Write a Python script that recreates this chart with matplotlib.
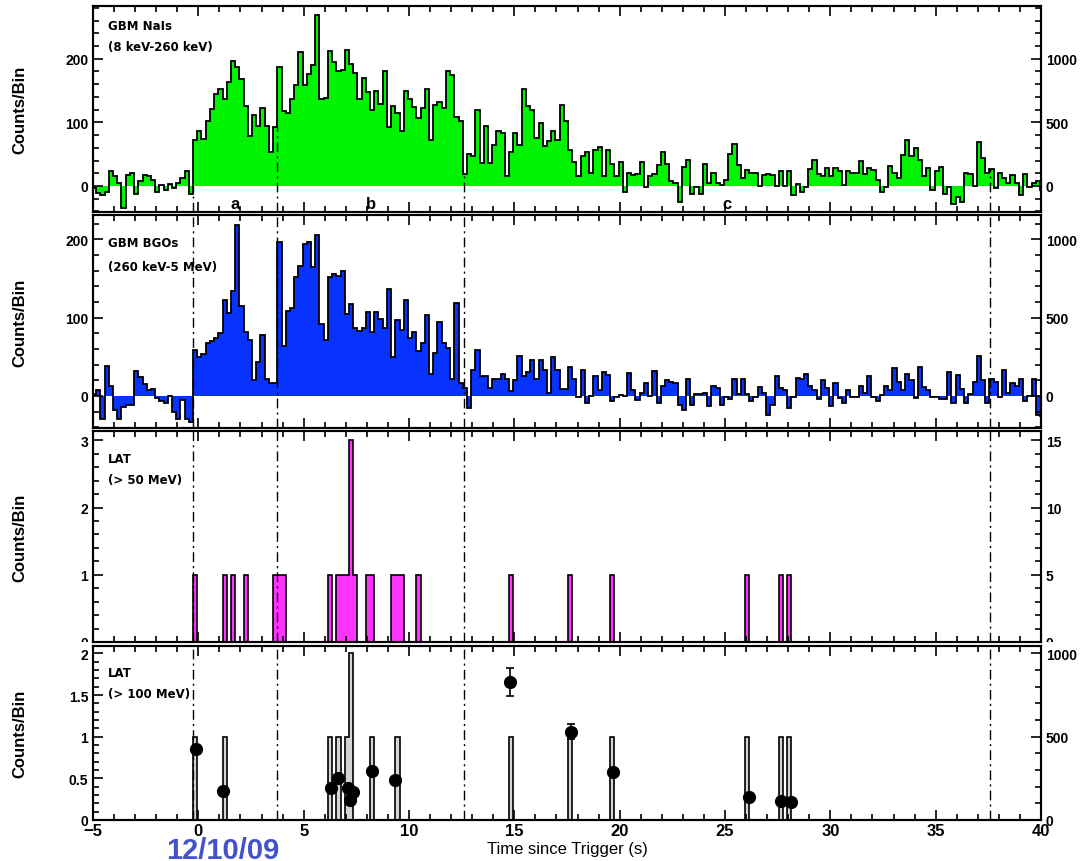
import numpy as np
import matplotlib.pyplot as plt
from matplotlib.ticker import MultipleLocator, FormatStrFormatter
from matplotlib.transforms import Bbox, TransformedBbox

plt.rcParams['font.family'] = ['Liberation Sans', 'DejaVu Sans']

bin_width = 0.2
t_first = -5.05  # left edge of the first 0.2 s bin

# GBM NaI counts per bin (8 keV - 260 keV), background subtracted
nai_counts = [
    -4, -11, -14, -9, 23, 16, 4, -35, 17, 20, -12, 7, 17, 15, 9, -10, 2, -6, 3, -4, 4, 12, 23, -12,
    73, 86, 74, 102, 121, 144, 152, 137, 163, 197, 187, 168, 126, 78, 111, 94, 123, 94, 53, 92,
    187, 118, 114, 137, 159, 211, 158, 176, 190, 269, 137, 139, 212, 195, 180, 183, 214, 192, 178, 137,
    170, 147, 119, 150, 129, 180, 92, 125, 114, 86, 149, 137, 124, 107, 123, 152, 73, 127, 132, 123,
    181, 174, 109, 102, 19, 51, 47,
    119, 36, 94, 36, 65, 87, 84, 16, 54, 83, 65, 152, 125, 120, 76, 99, 63, 70, 87, 73,
    128, 102, 57, 37, 16, 47, 53, 20, 57, 61, 16, 57, 35, 15, 37, -9, 21, 17, 19, 37, -2, 15, 19, 33, 54,
    35, 7, 4, -25, 30, 41, -13, -2, -13, 35, 5, 21, 5, 1, 10, 51, 66, 33, 12, 25,
    21, 20, 0, 17, 19, 17, 0, 23, 0, 24, -14, 3, -9, -2, 26, 41, 19, 15, 28, 15, 28, 23, 2, 24, 20,
    21, 39, 19, 28, 25, 10, -9, -1, 31, 20, 12, 49, 73, 47, 60, 41, 15, 28, -6, 23,
    30, -13, -1, -29, -17, -26, 21, 19, 0, 69, 44, 20, 26, -4, 21, 12, 4, 17, 5, -14, 19, -2, 4, 7, -6, -17,
]

# GBM BGO counts per bin (260 keV - 5 MeV)
bgo_counts = [
    3, 8, -29, 38, 12, -18, -29, -14, -11, -11, 32, 24, 15, 8, 9, -3, -7, -9, 0, -20, -29, -5, -29, -33,
    58, 50, 53, 68, 70, 74, 80, 123, 106, 134, 218, 115, 82, 72, 20, 43, 78, 21, 16, 16,
    197, 64, 109, 112, 152, 166, 194, 196, 165, 206, 92, 71, 152, 156, 153, 159, 104, 117, 87, 83,
    87, 107, 81, 107, 98, 87, 137, 50, 97, 84, 122, 74, 82, 57, 68, 103, 28, 55, 94, 68,
    61, 21, 118, 16, 10, -16, 33,
    59, 25, 25, 10, 21, 22, 28, 21, 6, 20, 51, 26, 31, 46, 21, 46, 33, 4, 50, 33,
    9, 9, 37, 21, -1, 33, -9, 0, 26, 8, 30, 27, -7, -1, 1, 0, 29, 8, -5, 4, 17, 0, 32, -9, 12,
    20, 18, 17, -12, -18, 21, -12, 3, 3, 4, -13, 12, 10, -12, -1, -4, 21, 3, 21, 3,
    -7, -1, 11, 4, -24, -12, 26, 10, 8, -15, -1, 23, 21, 28, 12, 8, -4, 20, 10, -13, 16, -3, -9, 8, -1,
    -1, 13, 4, 26, -1, -7, 1, 13, 8, 35, 18, 8, 28, 20, -3, 37, 11, 8, -1, -1,
    -4, -4, 31, -9, 27, 9, -9, 3, 18, 51, 20, -9, 21, 18, -2, 33, 4, 17, 12, 21, -6, 0, 21, -24, -26, 5,
]

# LAT events, given as start time of the occupied bin
lat50_times = [-0.25, 1.15, 1.55, 2.15, 3.55, 3.75, 3.95, 6.15, 6.55, 6.75, 6.95, 7.15, 7.35,
               7.95, 8.15, 9.15, 9.35, 9.55, 10.35, 14.75, 17.55, 19.55, 25.95, 27.55, 27.95]
lat50_counts = [1, 1, 1, 1, 1, 1, 1, 1, 1, 1, 1, 3, 1, 1, 1, 1, 1, 1, 1, 1, 1, 1, 1, 1, 1]
lat100_times = [-0.25, 1.15, 6.15, 6.55, 6.95, 7.15, 8.15, 9.35, 14.75, 17.55, 19.55, 25.95, 27.55, 27.95]
lat100_counts = [1, 1, 1, 1, 1, 2, 1, 1, 1, 1, 1, 1, 1, 1]

# individual >100 MeV photons: arrival time, energy (MeV), energy error
photon_times = [-0.09, 1.18, 6.28, 6.65, 7.12, 7.20, 7.33, 8.26, 9.34, 14.8, 17.69, 19.69, 26.16, 27.67, 28.11]
photon_energy = [426, 172, 190, 252, 190, 122, 166, 292, 240, 829, 529, 286, 136, 112, 106]
photon_err = [25, 10, 12, 15, 12, 10, 12, 15, 15, 85, 45, 15, 10, 8, 8]

interval_edges = [-0.27, 3.72, 12.63, 37.58]
interval_names = ['a', 'b', 'c']

nbins = len(nai_counts)
edges = t_first + bin_width * np.arange(nbins + 1)


def to_bins(times, counts):
    h = np.zeros(nbins)
    idx = np.round((np.array(times) - t_first) / bin_width).astype(int)
    h[idx] = counts
    return h


lat50 = to_bins(lat50_times, lat50_counts)
lat100 = to_bins(lat100_times, lat100_counts)
nai = np.array(nai_counts, dtype=float)
bgo = np.array(bgo_counts, dtype=float)

W, H = 1088, 862
fig = plt.figure(figsize=(W / 100, H / 100), dpi=100)

x0, x1 = 93, 1041
panels_px = [(7, 213), (216, 429), (432, 643), (647, 821)]
axes = []
for top, bot in panels_px:
    axes.append(fig.add_axes([x0 / W, 1 - bot / H, (x1 - x0) / W, (bot - top) / H]))

dashdot = (0, (7, 3, 1.5, 3))
label_font = dict(fontsize=8.5, fontweight='bold', family='DejaVu Sans', va='center')


def style(ax, ylim, major, minor, factor, rmajor, rminor):
    ax.set_xlim(-5, 40)
    ax.set_ylim(*ylim)
    ax.xaxis.set_major_locator(MultipleLocator(5))
    ax.xaxis.set_minor_locator(MultipleLocator(1))
    ax.yaxis.set_major_locator(MultipleLocator(major))
    ax.yaxis.set_minor_locator(MultipleLocator(minor))
    ax.yaxis.set_major_formatter(FormatStrFormatter('%g'))
    ax.tick_params(which='both', direction='in', top=True, width=1.2)
    ax.tick_params(which='major', length=7)
    ax.tick_params(which='minor', length=4)
    ax.tick_params(axis='x', labelbottom=False)
    for lab in ax.get_yticklabels():
        lab.set_fontsize(10)
        lab.set_fontweight('bold')
    for s in ax.spines.values():
        s.set_linewidth(1.5)
    ax2 = ax.twinx()
    ax2.set_ylim(ylim[0] * factor, ylim[1] * factor)
    ax2.yaxis.set_major_locator(MultipleLocator(rmajor))
    ax2.yaxis.set_minor_locator(MultipleLocator(rminor))
    ax2.yaxis.set_major_formatter(FormatStrFormatter('%g'))
    ax2.tick_params(which='both', direction='in', width=1.2)
    ax2.tick_params(which='major', length=7)
    ax2.tick_params(which='minor', length=4)
    for lab in ax2.get_yticklabels():
        lab.set_fontsize(10)
        lab.set_fontweight('bold')
    for s in ax2.spines.values():
        s.set_linewidth(1.5)
    return ax2


# NaI panel
ax = axes[0]
ax.stairs(nai, edges, fill=True, color='#00f300', baseline=0, zorder=1)
ax.stairs(nai, edges, color='black', lw=1.3, baseline=None, zorder=2)
ylo = -41
for t in interval_edges:
    i = int(np.floor((t - t_first) / bin_width))
    ax.plot([t, t], [ylo, max(nai[i], 0)], color='black', lw=1, ls=dashdot, zorder=3)
for name, a, b in zip(interval_names, interval_edges[:-1], interval_edges[1:]):
    ax.text((a + b) / 2, -27, name, ha='center', va='center', fontsize=12, fontweight='bold')
ax.text(-4.3, 252, 'GBM NaIs', **label_font)
ax.text(-4.3, 220, '(8 keV-260 keV)', **label_font)
style(ax, (ylo, 283), 100, 20, 5, 500, 100)

# BGO panel
ax = axes[1]
ax.stairs(bgo, edges, fill=True, color='#0833ff', baseline=0, zorder=1)
ax.stairs(bgo, edges, color='black', lw=1.3, baseline=None, zorder=2)
for t in interval_edges:
    ax.axvline(t, color='black', lw=1, ls=dashdot, zorder=3)
ax.text(-4.3, 196, 'GBM BGOs', **label_font)
ax.text(-4.3, 165, '(260 keV-5 MeV)', **label_font)
style(ax, (-41, 231), 100, 20, 5, 500, 100)

# LAT > 50 MeV panel
ax = axes[2]
ax.stairs(lat50, edges, fill=True, color='#ff33ff', baseline=0, zorder=1)
ax.stairs(lat50, edges, color='black', lw=1.2, baseline=None, zorder=2)
for t in interval_edges:
    ax.axvline(t, color='black', lw=1, ls=dashdot, zorder=3)
ax.text(-4.3, 2.73, 'LAT', **label_font)
ax.text(-4.3, 2.42, '(> 50 MeV)', **label_font)
ax2 = style(ax, (0, 3.14), 1, 0.2, 5, 5, 1)
lat50_axes = (ax, ax2)

# LAT > 100 MeV panel with photon energies on the right axis
ax = axes[3]
ax.stairs(lat100, edges, fill=True, color='#d4d4d4', baseline=0, zorder=1)
ax.stairs(lat100, edges, color='black', lw=1.2, baseline=None, zorder=2)
for t in interval_edges:
    ax.axvline(t, color='black', lw=1, ls=dashdot, zorder=3)
ax.text(-4.3, 1.77, 'LAT', **label_font)
ax.text(-4.3, 1.52, '(> 100 MeV)', **label_font)
ax2 = style(ax, (0, 2.09), 0.5, 0.1, 500, 500, 100)
ax2.errorbar(photon_times, photon_energy, yerr=photon_err, fmt='o', color='black',
             ms=8.5, capsize=3, elinewidth=1.2, capthick=1.2, zorder=5)
ax.tick_params(axis='x', labelbottom=True, pad=2)
for lab in ax.get_xticklabels():
    lab.set_fontsize(12)
    lab.set_fontweight('bold')

for top, bot in panels_px:
    fig.text(20 / W, 1 - (top + bot) / 2 / H, 'Counts/Bin', rotation=90, ha='center', va='center',
             fontsize=12, fontweight='bold')

fig.text(567 / W, 1 - 850 / H, 'Time since Trigger (s)', ha='center', va='center', fontsize=12)
fig.text(223 / W, 1 - 851 / H, '12/10/09', ha='center', va='center', fontsize=21,
         fontweight='bold', color='#4352cc')

# the zero labels of the >50 MeV panel are cut off by the panel below
fig.canvas.draw()
clip = TransformedBbox(Bbox([[0, 1 - 643 / H], [1, 1]]), fig.transFigure)
for a in lat50_axes:
    for tick in a.yaxis.get_major_ticks():
        for lab in (tick.label1, tick.label2):
            lab.set_clip_box(clip)
            lab.set_clip_on(True)

fig.savefig('out.png', dpi=100)
